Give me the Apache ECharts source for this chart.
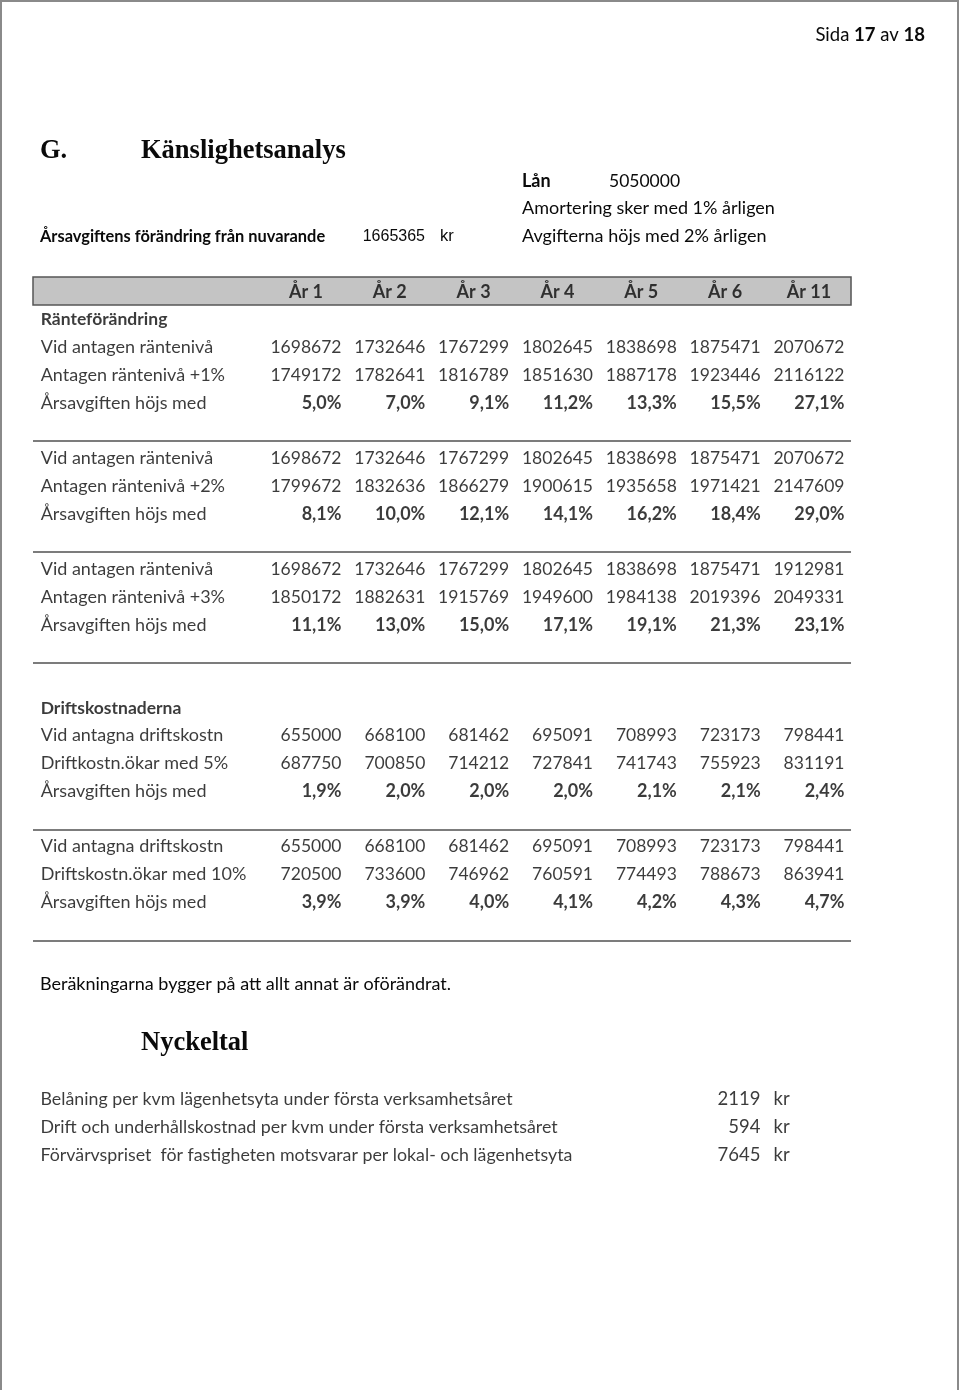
<!DOCTYPE html>
<html><head><meta charset="utf-8">
<script src="https://cdn.jsdelivr.net/npm/echarts@6/dist/echarts.min.js"></script>
<style>html,body{margin:0;padding:0;background:#fff}#c{width:960px;height:1390px}</style>
</head><body><div id="c"></div>
<script>
// ---------- DATA ----------
const pageNo = 17, pageTotal = 18;
const arsavgift = 1665365;
const lan = 5050000;
const amorteringPct = 1;
const avgiftHojningPct = 2;

const yearHeaders = ['År 1','År 2','År 3','År 4','År 5','År 6','År 11'];

const vidAntagenRanta   = [1698672,1732646,1767299,1802645,1838698,1875471,2070672];
const rantaPlus1        = [1749172,1782641,1816789,1851630,1887178,1923446,2116122];
const hojningPlus1      = [5.0,7.0,9.1,11.2,13.3,15.5,27.1];
const vidAntagenRanta2  = [1698672,1732646,1767299,1802645,1838698,1875471,2070672];
const rantaPlus2        = [1799672,1832636,1866279,1900615,1935658,1971421,2147609];
const hojningPlus2      = [8.1,10.0,12.1,14.1,16.2,18.4,29.0];
const vidAntagenRanta3  = [1698672,1732646,1767299,1802645,1838698,1875471,1912981];
const rantaPlus3        = [1850172,1882631,1915769,1949600,1984138,2019396,2049331];
const hojningPlus3      = [11.1,13.0,15.0,17.1,19.1,21.3,23.1];
const vidAntagnaDrift   = [655000,668100,681462,695091,708993,723173,798441];
const drift5            = [687750,700850,714212,727841,741743,755923,831191];
const hojningDrift5     = [1.9,2.0,2.0,2.0,2.1,2.1,2.4];
const vidAntagnaDrift2  = [655000,668100,681462,695091,708993,723173,798441];
const drift10           = [720500,733600,746962,760591,774493,788673,863941];
const hojningDrift10    = [3.9,3.9,4.0,4.1,4.2,4.3,4.7];

const nyckeltalLabels = [
  'Belåning per kvm lägenhetsyta under första verksamhetsåret',
  'Drift och underhållskostnad per kvm under första verksamhetsåret',
  'Förvärvspriset  för fastigheten motsvarar per lokal- och lägenhetsyta'
];
const nyckeltalValues = [2119, 594, 7645];

// table rows (row 0 = year header)
const tableRows = [
  {label:'Ränteförändring', bold:true},
  {label:'Vid antagen räntenivå', values:vidAntagenRanta},
  {label:'Antagen räntenivå +1%', values:rantaPlus1},
  {label:'Årsavgiften höjs med', values:hojningPlus1, pct:true},
  null,
  {label:'Vid antagen räntenivå', values:vidAntagenRanta2},
  {label:'Antagen räntenivå +2%', values:rantaPlus2},
  {label:'Årsavgiften höjs med', values:hojningPlus2, pct:true},
  null,
  {label:'Vid antagen räntenivå', values:vidAntagenRanta3},
  {label:'Antagen räntenivå +3%', values:rantaPlus3},
  {label:'Årsavgiften höjs med', values:hojningPlus3, pct:true},
  null, null,
  {label:'Driftskostnaderna', bold:true},
  {label:'Vid antagna driftskostn', values:vidAntagnaDrift},
  {label:'Driftkostn.ökar med 5%', values:drift5},
  {label:'Årsavgiften höjs med', values:hojningDrift5, pct:true},
  null,
  {label:'Vid antagna driftskostn', values:vidAntagnaDrift2},
  {label:'Driftskostn.ökar med 10%', values:drift10},
  {label:'Årsavgiften höjs med', values:hojningDrift10, pct:true}
];

// ---------- LAYOUT / STYLE ----------
const FONT = 'Lato';
const TXT = '#0a0a0a';
const LABEL_X = -2.6;      // axis units for the row-label column
const LEFT_EDGE = -2.686, RIGHT_EDGE = 7.072;
const separators = [5.37, 9.38, 13.38, 19.4, 23.4];
const fmtPct = v => v.toFixed(1).replace('.', ',') + '%';

const cells = [];
yearHeaders.forEach((h, i) => {
  cells.push({value:[i + 1 - 0.43, 0], name:h,
    label:{position:'inside', fontWeight:'bold', fontSize:18}});
});
tableRows.forEach((r, k) => {
  if (!r) return;
  const row = k + 1;
  cells.push({value:[LABEL_X, row], name:r.label,
    label:{position:'right', distance:0, fontWeight:r.bold ? 'bold' : 'normal', fontSize:r.bold ? 17.5 : 18}});
  if (r.values) r.values.forEach((v, i) => {
    cells.push({value:[i + 1, row], name:r.pct ? fmtPct(v) : String(v),
      label:{position:'left', distance:0, fontWeight:r.pct ? 'bold' : 'normal', fontSize:r.pct ? 18 : 17.5}});
  });
});

const nyCells = [];
nyckeltalLabels.forEach((t, i) => {
  nyCells.push({value:[0, i], name:t, label:{position:'right', distance:0, fontSize:17.8}});
  nyCells.push({value:[1, i], name:String(nyckeltalValues[i]), label:{position:'left', distance:0}});
  nyCells.push({value:[1, i], name:'kr', label:{position:'right', distance:12}});
});

const chart = echarts.init(document.getElementById('c'), null, {renderer:'canvas'});
const txt = (text, x, y, font, align) => ({type:'text', x, y, silent:true,
  style:{text, font, fill:TXT, textAlign:align || 'left', textVerticalAlign:'middle',
         align:align || 'left', verticalAlign:'middle'}});

chart.setOption({
  animation:false,
  backgroundColor:'#fff',
  textStyle:{fontFamily:FONT, color:TXT},
  grid:[
    {left:6.68, width:922.13, top:264.27, height:693.25},
    {left:40, width:721, top:1071, height:112}
  ],
  xAxis:[
    {type:'value', min:-3, max:8, show:false, gridIndex:0},
    {type:'value', min:0, max:1, show:false, gridIndex:1}
  ],
  yAxis:[
    {type:'value', min:-1, max:24, inverse:true, show:false, gridIndex:0},
    {type:'value', min:-1, max:3, inverse:true, show:false, gridIndex:1}
  ],
  graphic:[
    {type:'rect', shape:{x:1, y:1, width:957, height:1400}, silent:true,
      style:{fill:'none', stroke:'#8a8a8a', lineWidth:2}},
    {type:'text', x:925, y:35, silent:true,
      style:{text:'Sida {b|' + pageNo + '} av {b|' + pageTotal + '}', font:'18.5px ' + FONT, fill:TXT,
        textAlign:'right', textVerticalAlign:'middle', align:'right', verticalAlign:'middle',
        rich:{b:{fontWeight:'bold', fontSize:18.5, fontFamily:FONT, fill:TXT}}}},
    txt('G.', 40, 151, 'bold 26.5px "Liberation Serif"'),
    txt('Känslighetsanalys', 141, 151, 'bold 26.5px "Liberation Serif"'),
    txt('Årsavgiftens förändring från nuvarande', 40, 237, 'bold 16.4px ' + FONT),
    txt(String(arsavgift), 425, 237, '16px "Liberation Sans"', 'right'),
    txt('kr', 440, 236, '16.5px "Liberation Sans"'),
    txt('Lån', 522, 181, 'bold 18px ' + FONT),
    txt(String(lan), 609, 181, '17.5px ' + FONT),
    txt('Amortering sker med ' + amorteringPct + '% årligen', 522, 208, '18px ' + FONT),
    txt('Avgifterna höjs med ' + avgiftHojningPct + '% årligen', 522, 236, '18px ' + FONT),
    txt('Beräkningarna bygger på att allt annat är oförändrat.', 40, 984, '18px ' + FONT),
    txt('Nyckeltal', 141, 1043, 'bold 26.5px "Liberation Serif"')
  ],
  series:[
    {
      type:'scatter', xAxisIndex:0, yAxisIndex:0, z:1, silent:true, symbolSize:0, data:[],
      markArea:{silent:true, itemStyle:{color:'#c4c4c4', borderColor:'#555', borderWidth:1.5},
        data:[[{coord:[LEFT_EDGE, -0.54]}, {coord:[RIGHT_EDGE, 0.47]}]]},
      markLine:{silent:true, symbol:'none', label:{show:false},
        lineStyle:{color:'#7c7c7c', width:2, type:'solid'},
        data:separators.map(y => [{coord:[LEFT_EDGE, y]}, {coord:[RIGHT_EDGE, y]}])}
    },
    {
      type:'scatter', xAxisIndex:0, yAxisIndex:0, z:5, silent:true, symbolSize:1,
      itemStyle:{color:'rgba(0,0,0,0)'},
      label:{show:true, formatter:'{b}', color:TXT, fontFamily:FONT, fontSize:17.5},
      data:cells
    },
    {
      type:'scatter', xAxisIndex:1, yAxisIndex:1, z:5, silent:true, symbolSize:1,
      itemStyle:{color:'rgba(0,0,0,0)'},
      label:{show:true, formatter:'{b}', color:TXT, fontFamily:FONT, fontSize:18.5},
      data:nyCells
    }
  ]
});
</script></body></html>
